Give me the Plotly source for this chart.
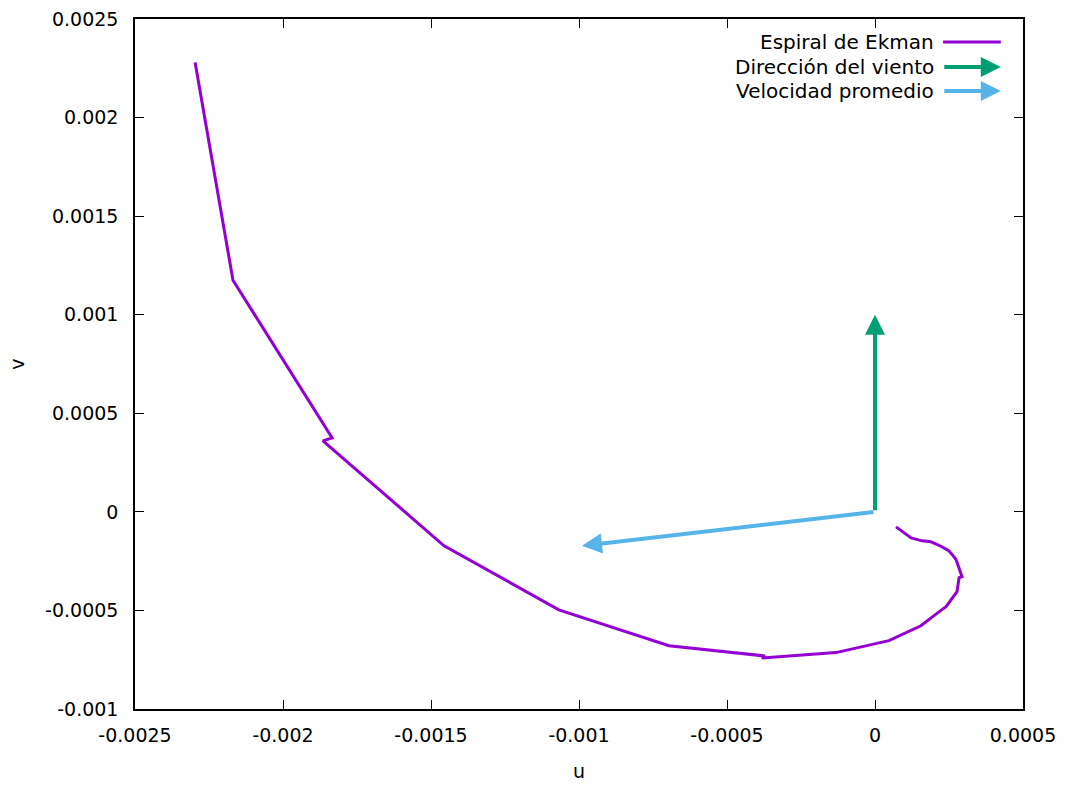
import plotly.graph_objects as go

# Ekman spiral (u, v) points
u_spiral = [0.000071, 0.000122, 0.000159, 0.000189, 0.000226, 0.000250, 0.000267, 0.000274,
            0.000294, 0.000284, 0.000277, 0.000240, 0.000226, 0.000155, 0.000047, -0.000132,
            -0.000382, -0.000372, -0.000696, -0.001044, -0.001068, -0.001456, -0.001865,
            -0.001834, -0.002169, -0.002297]
v_spiral = [-0.000076, -0.000132, -0.000147, -0.000152, -0.000177, -0.000198, -0.000228, -0.000243,
            -0.000329, -0.000334, -0.000405, -0.000481, -0.000496, -0.000578, -0.000653, -0.000714,
            -0.000741, -0.000731, -0.000679, -0.000507, -0.000497, -0.000172, 0.000360,
            0.000375, 0.001175, 0.002280]

# Arrows: start and end
wind_u = [0.0, 0.0]
wind_v = [0.0, 0.001]
mean_u = [0.0, -0.00099]
mean_v = [0.0, -0.000172]

x_ticks = [-0.0025, -0.002, -0.0015, -0.001, -0.0005, 0, 0.0005]
x_tick_text = ["-0.0025", "-0.002", "-0.0015", "-0.001", "-0.0005", "0", "0.0005"]
y_ticks = [-0.001, -0.0005, 0, 0.0005, 0.001, 0.0015, 0.002, 0.0025]
y_tick_text = ["-0.001", "-0.0005", "0", "0.0005", "0.001", "0.0015", "0.002", "0.0025"]

legend_names = ["Espiral de Ekman", "Dirección del viento", "Velocidad promedio"]

PURPLE = "#9400D3"
GREEN = "#009E73"
BLUE = "#56B4E9"
FONT = "DejaVu Sans"
FS = 19

fig = go.Figure()
fig.add_trace(go.Scatter(x=u_spiral, y=v_spiral, mode="lines",
                         line=dict(color=PURPLE, width=3), showlegend=False,
                         hoverinfo="skip"))

annotations = []
for us, vs, col in [(wind_u, wind_v, GREEN), (mean_u, mean_v, BLUE)]:
    annotations.append(dict(x=us[1], y=vs[1], ax=us[0], ay=vs[0], xref="x", yref="y",
                            axref="x", ayref="y", text="", showarrow=True,
                            arrowhead=2, arrowsize=1.0, arrowwidth=4, arrowcolor=col))

# manual legend
leg_y = [0.9666, 0.9306, 0.8956]
text_x = 0.902
line_x0, line_x1 = 0.910, 0.975
shapes = []
for i, (name, col) in enumerate(zip(legend_names, [PURPLE, GREEN, BLUE])):
    annotations.append(dict(x=text_x, y=leg_y[i], xref="paper", yref="paper", text=name,
                            showarrow=False, xanchor="right", yanchor="middle",
                            font=dict(family=FONT, size=20, color="black")))
    if i == 0:
        shapes.append(dict(type="line", xref="paper", yref="paper", x0=line_x0, x1=line_x1,
                           y0=leg_y[i], y1=leg_y[i], line=dict(color=col, width=3)))
    else:
        annotations.append(dict(x=line_x1, y=leg_y[i], xref="paper", yref="paper", text="",
                                showarrow=True, ax=-58, ay=0, arrowhead=2, arrowsize=1.0,
                                arrowwidth=4, arrowcolor=col))

axis_common = dict(showgrid=False, zeroline=False, showline=True, linecolor="black",
                   linewidth=1.5, mirror="ticks", ticks="inside", ticklen=9,
                   tickwidth=1, tickcolor="black", automargin=False,
                   tickfont=dict(family=FONT, size=FS, color="black"))

fig.update_layout(
    width=1068, height=785,
    margin=dict(l=135, r=45, t=19, b=76),
    plot_bgcolor="white", paper_bgcolor="white",
    font=dict(family=FONT, size=FS, color="black"),
    showlegend=False,
    xaxis=dict(range=[-0.0025, 0.0005], tickvals=x_ticks, ticktext=x_tick_text,
               title=dict(text="u", standoff=20, font=dict(family=FONT, size=FS)),
               ticklabelstandoff=8, **axis_common),
    yaxis=dict(range=[-0.001, 0.0025], tickvals=y_ticks, ticktext=y_tick_text,
               title=dict(text="v", standoff=15, font=dict(family=FONT, size=FS)),
               ticklabelstandoff=11, **axis_common),
    annotations=annotations,
    shapes=shapes,
)

fig.write_html("out.html")
